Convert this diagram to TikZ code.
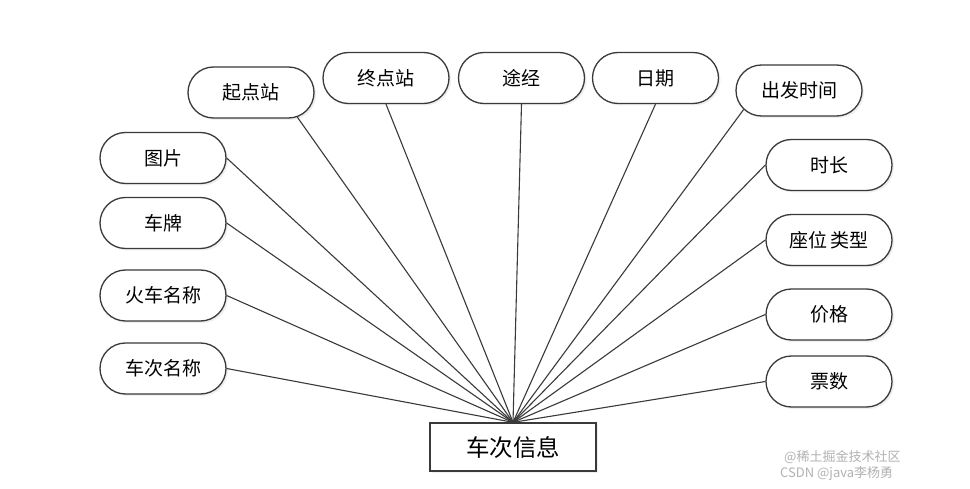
\documentclass[tikz,border=0pt]{standalone}
\usepackage{fontspec}
\setmainfont{Noto Sans CJK SC}
\newfontfamily\cjk{Noto Sans CJK SC}
\usetikzlibrary{shapes.misc,shadows}
\definecolor{edge}{HTML}{3A3A3A}
\tikzset{
  attr/.style={rounded rectangle, draw=edge, line width=1.3pt, fill=white,
    minimum width=126pt, minimum height=51pt, inner sep=0pt,
    font=\cjk\fontsize{19}{22}\selectfont,
    drop shadow={opacity=0.12, shadow xshift=2pt, shadow yshift=-2pt}},
  ent/.style={rectangle, draw=edge, line width=1.3pt, fill=white,
    minimum width=166pt, minimum height=48pt, inner sep=0pt,
    font=\cjk\fontsize{23.5}{27}\selectfont,
    drop shadow={opacity=0.12, shadow xshift=2pt, shadow yshift=-2pt}},
  link/.style={draw=edge, line width=1.1pt},
  wm/.style={font=\cjk\fontsize{13}{15}\selectfont, text=black!30, inner sep=0pt}
}
\begin{document}
\begin{tikzpicture}[x=1pt,y=-1pt]
\useasboundingbox[fill=white] (0,0) rectangle (970,489);
\node[attr] (qd) at (251,92.5) {起点站};
\node[attr] (zd) at (386,78) {终点站};
\node[attr] (tj) at (521.5,78) {途经};
\node[attr] (rq) at (655.5,78) {日期};
\node[attr] (cf) at (799,90.5) {出发时间};
\node[attr] (sc) at (829,165) {时长};
\node[attr] (zw) at (829,240) {座位\hspace{3pt}类型};
\node[attr] (jg) at (829,314.5) {价格};
\node[attr] (ps) at (829,381.5) {票数};
\node[attr] (tp) at (163,158) {图片};
\node[attr] (cp) at (163,223) {车牌};
\node[attr] (hc) at (163,295.5) {火车名称};
\node[attr] (cc) at (163,368.5) {车次名称};
\node[ent] (info) at (513,447) {车次信息};
\foreach \a in {tp.east, cp.east, hc.east, cc.east, qd.-28, zd.south, tj.south, rq.south, cf.-161, sc.west, zw.west, jg.west, ps.west}
  \draw[link] (\a) -- (info.north);
\node[wm, anchor=west] (wm1) at (784,457) {@稀土掘金技术社区};
\node[wm, anchor=west] (wm2) at (780,474) {CSDN @java李杨勇};
\end{tikzpicture}
\end{document}
